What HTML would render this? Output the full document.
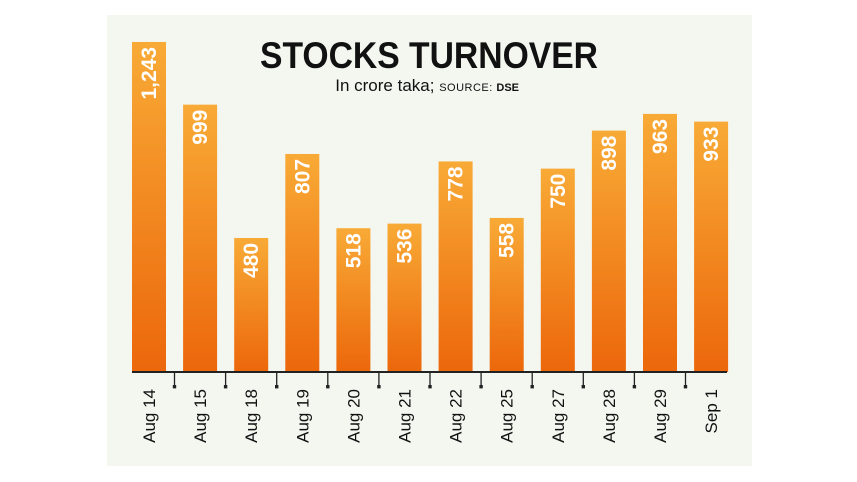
<!DOCTYPE html>
<html><head><meta charset="utf-8"><style>
body{margin:0;width:857px;height:482px;background:#fff;overflow:hidden}
svg{display:block}
text{font-family:"Liberation Sans Narrow","Liberation Sans",sans-serif}
</style></head><body>
<svg width="857" height="482">
<defs><linearGradient id="g" x1="0" y1="0" x2="0" y2="1"><stop offset="0" stop-color="#f8aa36"/><stop offset="1" stop-color="#ec670b"/></linearGradient></defs>
<rect x="107" y="15" width="645" height="451" fill="#f4f6f0"/>
<text x="429" y="68" text-anchor="middle" font-family="Liberation Sans" font-weight="bold" font-size="37" fill="#111" style="font-family:'Liberation Sans',sans-serif" textLength="338" lengthAdjust="spacingAndGlyphs">STOCKS TURNOVER</text>
<text x="519" y="91" text-anchor="end" font-size="17" fill="#111">In crore taka; <tspan font-size="11" style="font-family:'Liberation Sans',sans-serif" letter-spacing="0.5">SOURCE: </tspan><tspan font-size="11" font-weight="bold" style="font-family:'Liberation Sans',sans-serif">DSE</tspan></text>
<g id="bars"></g>
<line x1="132" y1="372" x2="727" y2="372" stroke="#222" stroke-width="2"/>
</svg>
<script>
const categories=["Aug 14","Aug 15","Aug 18","Aug 19","Aug 20","Aug 21","Aug 22","Aug 25","Aug 27","Aug 28","Aug 29","Sep 1"];
const values=[1243,999,480,807,518,536,778,558,750,898,963,933];
const valueLabels=["1,243","999","480","807","518","536","778","558","750","898","963","933"];
const NS="http://www.w3.org/2000/svg";
const g=document.getElementById('bars');
const x=i=>132+i*51.1;
const y=v=>361.3-0.2569*v;
const bw=34, base=372;
function mk(t,a){const e=document.createElementNS(NS,t);for(const k in a)e.setAttribute(k,a[k]);g.appendChild(e);return e;}
values.forEach((v,i)=>{
  const b=mk('rect',{x:x(i),y:y(v),width:bw,height:base-y(v),fill:'url(#g)'});
  
  
  const cx=x(i)+bw/2;
  const t=mk('text',{x:0,y:0,transform:`translate(${cx+7},${y(v)+5}) rotate(-90)`,'text-anchor':'end','font-size':'21','font-weight':'bold',fill:'#fff'});
  t.textContent=valueLabels[i];
  
  
  const l=mk('text',{x:0,y:0,transform:`translate(${cx+6},${389}) rotate(-90)`,'text-anchor':'end','font-size':'17',fill:'#111'});
  l.textContent=categories[i];
  
  
  if(i<values.length-1){
    const tx=x(i)+bw+8.5;
    const tk=mk('line',{x1:tx,y1:372,x2:tx,y2:387,stroke:'#222','stroke-width':1.3});
    
    
    const d=mk('rect',{x:tx-1.7,y:385,width:3.4,height:3.4,fill:'#222'});
    
    
  }
});
</script>
</body></html>
